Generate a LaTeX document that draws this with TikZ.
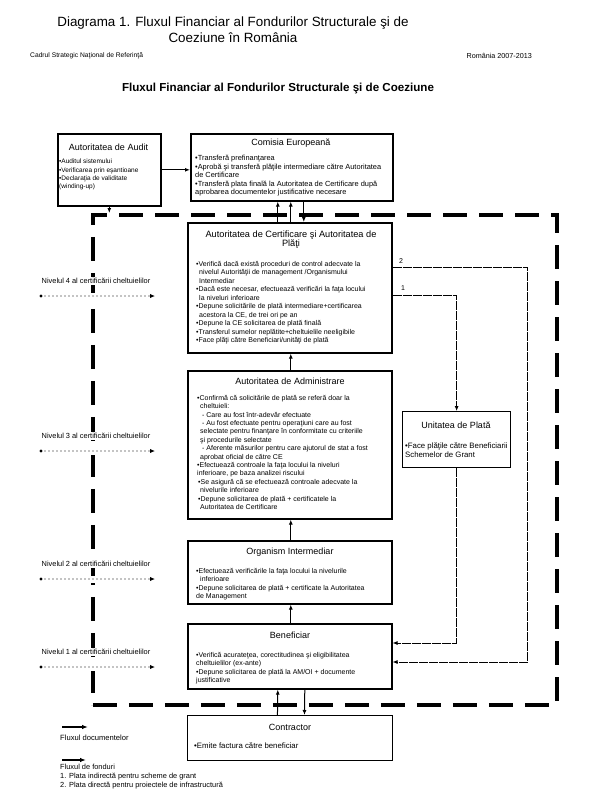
\documentclass[tikz,border=0pt]{standalone}
\usepackage{fontspec}
\setmainfont{Liberation Sans}
\usetikzlibrary{arrows.meta,calc}
\begin{document}
\begin{tikzpicture}[x=1pt,y=-1pt,
  box/.style={draw, line width=1.6pt, inner sep=0pt, anchor=north west},
  thinbox/.style={box, line width=1.1pt},
  frameline/.style={draw, line width=3.6pt, dash pattern=on 24pt off 12pt, inner sep=0pt, anchor=north west},
  ttl/.style={inner sep=0pt, font=\fontsize{9}{10}\selectfont, align=center},
  body/.style={inner sep=0pt, font=\fontsize{7}{8.5}\selectfont, align=left, anchor=north west},
  small/.style={inner sep=1.5pt, fill=white, font=\fontsize{7.4}{8.6}\selectfont},
  arr/.style={line width=1pt, -{Latex[length=5pt,width=4pt]}},
  fund/.style={line width=0.8pt, dash pattern=on 9pt off 1pt, -{Latex[length=5pt,width=4pt]}},
  lvlarrow/.style={line width=1.3pt, line cap=round, dash pattern=on 0pt off 4pt, -{Latex[length=5pt,width=4.5pt]}},
  lvlgap/.style={white, line width=7pt},
  legarrow/.style={line width=1.3pt, -{Latex[length=6pt,width=4.5pt]}}
]
\useasboundingbox (0,0) rectangle (600,807);
\fill[white] (0,0) rectangle (600,807);

% header
\node[inner sep=0pt, font=\fontsize{13.4}{16}\selectfont, align=center] (title) at (233,30)
  {Diagrama 1. Fluxul Financiar al Fondurilor Structurale şi de\\Coeziune în România};
\node[inner sep=0pt, anchor=west, font=\fontsize{6.7}{7}\selectfont] (hl) at (30,56) {Cadrul Strategic Naţional de Referinţă};
\node[inner sep=0pt, anchor=east, font=\fontsize{7.2}{7}\selectfont] (hr) at (532,56) {România 2007-2013};
\node[inner sep=0pt, font=\fontsize{11.6}{13}\selectfont\bfseries] (sub) at (278,88)
  {Fluxul Financiar al Fondurilor Structurale şi de Coeziune};

% dashed frame
\node[frameline, minimum width=464pt, minimum height=490pt] (frame) at (91,213) {};

% boxes
\node[box, minimum width=103pt, minimum height=72pt] (audit) at (57,133) {};
\node[ttl] at (108.5,147) {Autoritatea de Audit};
\node[body, font=\fontsize{6.5}{8.3}\selectfont] at (59,159) {•Auditul sistemului\\•Verificarea prin eşantioane\\•Declaraţia de validitate\\(winding-up)};

\node[box, minimum width=202pt, minimum height=67pt] (com) at (190,133) {};
\node[ttl] at (291,143) {Comisia Europeană};
\node[body, font=\fontsize{7.4}{8.5}\selectfont] at (195,155) {•Transferă prefinanţarea\\•Aprobă şi transferă plăţile intermediare către Autoritatea\\de Certificare\\•Transferă plata finală la Autoritatea de Certificare după\\aprobarea documentelor justificative necesare};

\node[box, minimum width=204pt, minimum height=130pt] (cert) at (187,222) {};
\node[ttl, font=\fontsize{9.2}{9.5}\selectfont] at (291,239.5) {Autoritatea de Certificare şi Autoritatea de\\Plăţi};
\node[body] at (196,261) {•Verifică dacă există proceduri de control adecvate la\\
\hspace*{3pt}nivelul Autorităţii de management /Organismului\\
\hspace*{3pt}Intermediar\\
•Dacă este necesar, efectuează verificări la faţa locului\\
\hspace*{3pt}la niveluri inferioare\\
•Depune solicitările de plată intermediare+certificarea\\
\hspace*{3pt}acestora la CE, de trei ori pe an\\
•Depune la CE solicitarea de plată finală\\
•Transferul sumelor neplătite+cheltuielile neeligibile\\
•Face plăţi către Beneficiari/unităţi de plată};

\node[box, minimum width=204pt, minimum height=148pt] (admin) at (187,370) {};
\node[ttl] at (290,381) {Autoritatea de Administrare};
\node[body, font=\fontsize{7}{8.4}\selectfont] at (197,395) {•Confirmă că solicitările de plată se referă doar la\\
\hspace*{3pt}cheltuieli:\\
\hspace*{3pt} - Care au fost într-adevăr efectuate\\
\hspace*{3pt} - Au fost efectuate pentru operaţiuni care au fost\\
\hspace*{3pt}selectate pentru finanţare în conformitate cu criteriile\\
\hspace*{3pt}şi procedurile selectate\\
\hspace*{3pt} - Aferente măsurilor pentru care ajutorul de stat a fost\\
\hspace*{3pt}aprobat oficial de către CE\\
•Efectuează controale la faţa locului la niveluri\\
inferioare, pe baza analizei riscului\\
\hspace*{1pt}•Se asigură că se efectuează controale adecvate la\\
\hspace*{3pt}nivelurile inferioare\\
\hspace*{1pt}•Depune solicitarea de plată + certificatele la\\
\hspace*{3pt}Autoritatea de Certificare};

\node[thinbox, line width=1.3pt, minimum width=108pt, minimum height=56pt] (unit) at (402,411) {};
\node[ttl] at (456,425) {Unitatea de Plată};
\node[body, font=\fontsize{7.8}{8.2}\selectfont] at (405,443) {•Face plăţile către Beneficiarii\\Schemelor de Grant};

\node[box, minimum width=204pt, minimum height=63pt] (org) at (187,540) {};
\node[ttl] at (290,552) {Organism Intermediar};
\node[body] at (196,568) {•Efectuează verificările la faţa locului la nivelurile\\
\hspace*{4pt}inferioare\\
•Depune solicitarea de plată + certificate la Autoritatea\\
de Management};

\node[box, minimum width=204pt, minimum height=65pt] (benef) at (187,623) {};
\node[ttl] at (290,635) {Beneficiar};
\node[body] at (196,652) {•Verifică acurateţea, corectitudinea şi eligibilitatea\\
cheltuielilor (ex-ante)\\
•Depune solicitarea de plată la AM/OI + documente\\
justificative};

\node[thinbox, line width=0.9pt, minimum width=205pt, minimum height=45pt] (contr) at (187,715) {};
\node[ttl] at (290,727) {Contractor};
\node[body, font=\fontsize{7.8}{8.5}\selectfont] at (194,743) {•Emite factura către beneficiar};

% connectors
\draw[arr] (audit.east) -- (audit.east -| com.west);
\draw[arr] (audit.south) -- (audit.south |- frame.north);
\draw[arr] ($(cert.north)+(-12,0)$) -- ($(com.south)+(-14,0)$);
\draw[arr] ($(cert.north)+(1,0)$) -- ($(com.south)+(-1,0)$);
\draw[arr] ($(com.south)+(12,0)$) -- ($(cert.north)+(14,0)$);
\draw[arr] ($(admin.north)+(1,0)$) -- ($(cert.south)+(1,0)$);
\draw[arr] ($(org.north)+(1,0)$) -- ($(admin.south)+(1,0)$);
\draw[arr] ($(benef.north)+(1,0)$) -- ($(org.south)+(1,0)$);
\draw[arr] ($(contr.north)+(-12.5,0)$) -- ($(benef.south)+(-12,0)$);
\draw[arr] ($(benef.south)+(15,0)$) -- ($(contr.north)+(14.5,0)$);

% funds lines
\draw[fund] ($(cert.north east)+(0,45)$) -- ++(135,0) |- ($(benef.north east)+(0,39)$);
\draw[fund] ($(cert.north east)+(0,73)$) -| (unit.north);
\draw[fund] (unit.south) |- ($(benef.north east)+(0,20)$);
\node[inner sep=0pt, font=\fontsize{7}{8}\selectfont] (n2) at (401,261) {2};
\node[inner sep=0pt, font=\fontsize{7}{8}\selectfont] (n1) at (403,288) {1};

% levels
\node[small] (lv4) at (96,281) {Nivelul 4 al certificării cheltuielilor};
\node[small] (lv3) at (96,436) {Nivelul 3 al certificării cheltuielilor};
\node[small] (lv2) at (96,564) {Nivelul 2 al certificării cheltuielilor};
\node[small] (lv1) at (96,652) {Nivelul 1 al certificării cheltuielilor};
\coordinate (a4) at (41,296); \coordinate (b4) at (155,296);
\coordinate (a3) at (41,451); \coordinate (b3) at (155,451);
\coordinate (a2) at (41,579); \coordinate (b2) at (155,579);
\coordinate (a1) at (41,667); \coordinate (b1) at (155,667);
\foreach \p/\q in {a4/b4,a3/b3,a2/b2,a1/b1} {
  \draw[lvlgap] (\p) -- (\q);
  \fill (\p) circle (1.7pt);
  \draw[lvlarrow] (\p) -- (\q);
}

% legend
\coordinate (ld1) at (62,727); \coordinate (ld2) at (88,727);
\coordinate (lf1) at (62,760); \coordinate (lf2) at (86,760);
\draw[legarrow] (ld1) -- (ld2);
\draw[legarrow] (lf1) -- (lf2);
\node[inner sep=0pt, anchor=west, font=\fontsize{7.6}{8}\selectfont] (lgd) at (60,737.5) {Fluxul documentelor};
\node[inner sep=0pt, anchor=north west, align=left, font=\fontsize{7.4}{8.9}\selectfont] (lgf) at (60,764) {Fluxul de fonduri\\1. Plata indirectă pentru scheme de grant\\2. Plata directă pentru proiectele de infrastructură};
\end{tikzpicture}
\end{document}
